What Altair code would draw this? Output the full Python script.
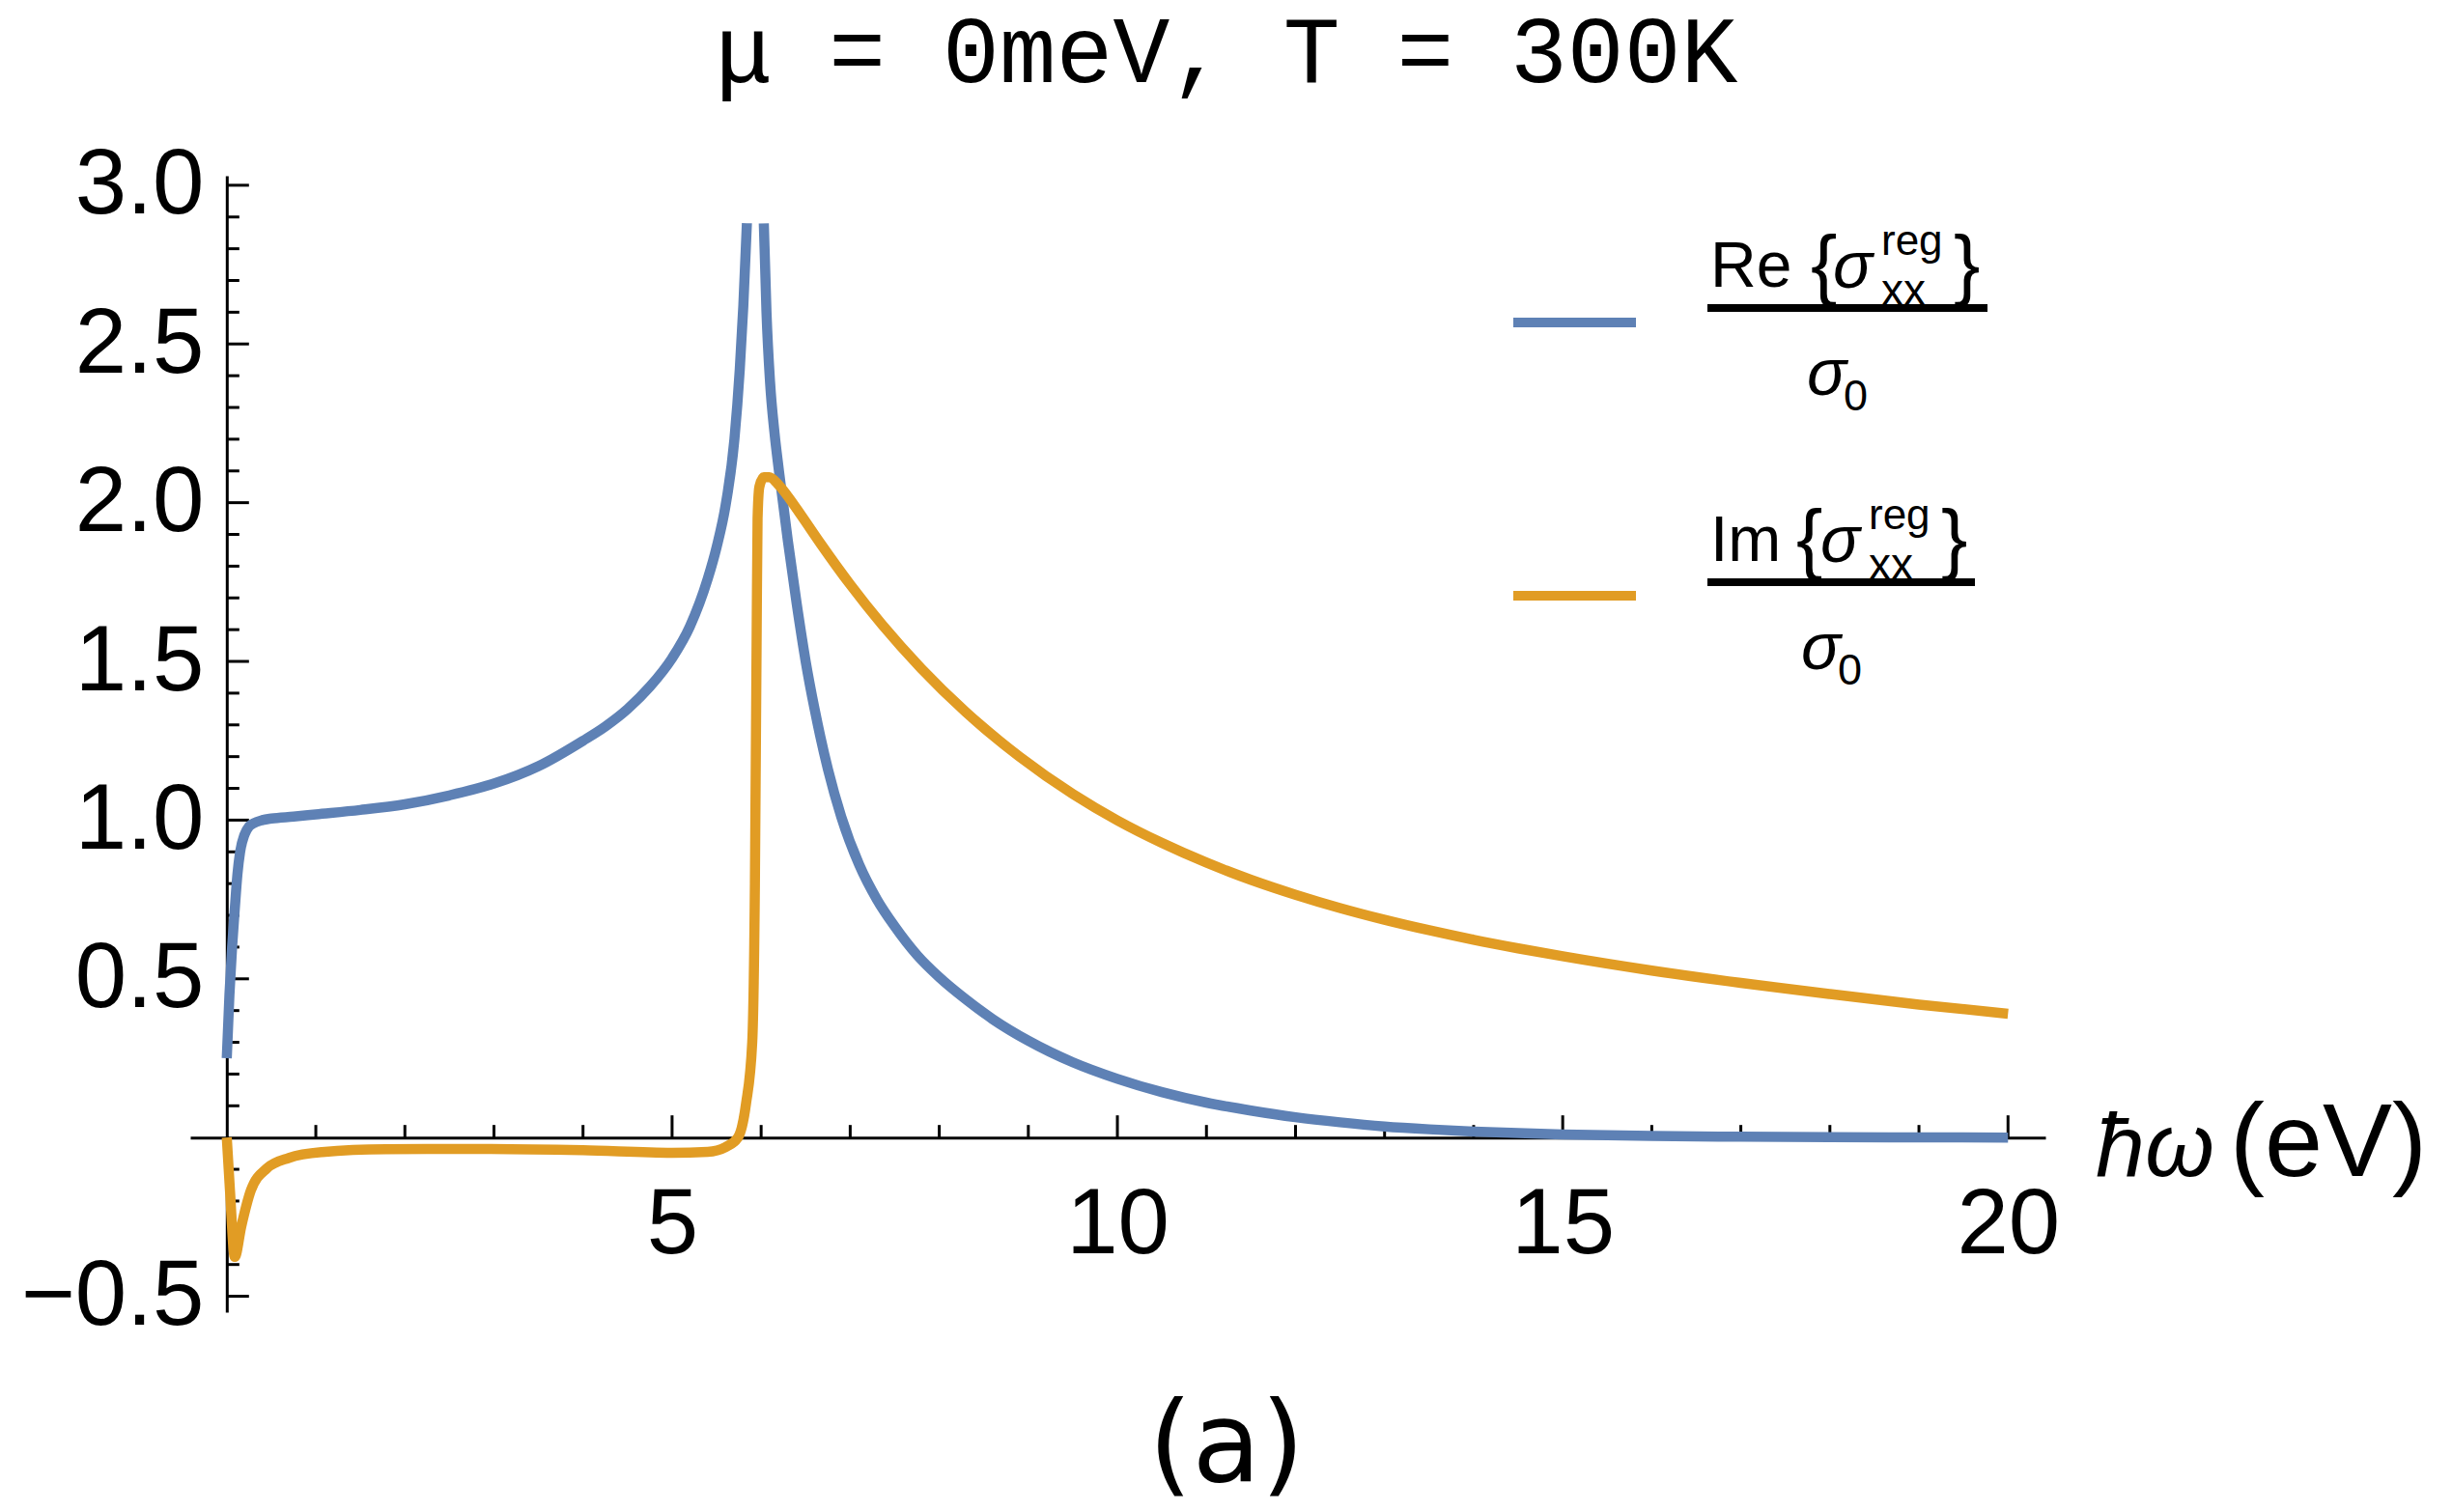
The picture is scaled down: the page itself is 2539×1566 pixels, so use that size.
import altair as alt
import pandas as pd

# ---------------- data ----------------
# Re{sigma_xx^reg}/sigma_0 : left branch (below the singularity)
re_left_x = [0.0, 0.03, 0.06, 0.09, 0.12, 0.15, 0.2, 0.25, 0.3, 0.4, 0.5, 0.75, 1.0, 1.5,
             2.0, 2.5, 3.0, 3.5, 4.0, 4.25, 4.5, 4.75, 5.0, 5.2, 5.4, 5.5, 5.6, 5.7, 5.76,
             5.8, 5.84]
re_left_y = [0.25, 0.45, 0.60, 0.72, 0.83, 0.90, 0.955, 0.98, 0.99, 1.0, 1.005, 1.011,
             1.018, 1.032, 1.05, 1.078, 1.115, 1.17, 1.25, 1.295, 1.35, 1.42, 1.51, 1.61,
             1.76, 1.86, 1.99, 2.20, 2.42, 2.62, 2.88]
# right branch (above the singularity)
re_right_x = [6.03, 6.06, 6.1, 6.15, 6.2, 6.3, 6.4, 6.5, 6.6, 6.75, 6.9, 7.1, 7.3, 7.5,
              7.75, 8.0, 8.3, 8.6, 9.0, 9.5, 10.0, 10.5, 11.0, 11.5, 12.0, 12.5, 13.0,
              13.5, 14.0, 14.5, 15.0, 16.0, 17.0, 18.0, 19.0, 20.0]
re_right_y = [2.88, 2.60, 2.38, 2.22, 2.10, 1.88, 1.68, 1.50, 1.35, 1.16, 1.01, 0.86,
              0.75, 0.665, 0.575, 0.505, 0.435, 0.373, 0.305, 0.237, 0.185, 0.143, 0.110,
              0.085, 0.064, 0.048, 0.035, 0.026, 0.019, 0.014, 0.010, 0.005, 0.0025,
              0.001, 0.0005, 0.0]
# Im{sigma_xx^reg}/sigma_0
im_x = [0.0, 0.036, 0.09, 0.163, 0.27, 0.45, 0.70, 1.07, 1.79, 2.87, 4.0, 5.0, 5.4, 5.6,
        5.74, 5.83, 5.90, 5.93, 5.95, 5.96, 5.98, 6.03, 6.09, 6.2, 6.3, 6.45, 6.67, 7.0,
        7.36, 7.8, 8.3, 8.9, 9.5, 10.0, 10.5, 11.0, 11.5, 12.0, 12.5, 13.0, 13.5, 14.0,
        14.5, 15.0, 16.0, 17.0, 18.0, 19.0, 20.0]
im_y = [0.0, -0.167, -0.376, -0.28, -0.167, -0.097, -0.064, -0.046, -0.037, -0.036, -0.04,
        -0.048, -0.045, -0.03, 0.0, 0.106, 0.3, 0.8, 1.6, 1.95, 2.05, 2.08, 2.08, 2.055,
        2.02, 1.96, 1.87, 1.742, 1.615, 1.477, 1.34, 1.20, 1.082, 0.999, 0.928, 0.866,
        0.812, 0.765, 0.723, 0.686, 0.653, 0.623, 0.596, 0.571, 0.526, 0.487, 0.452,
        0.419, 0.390]

x_major = [5, 10, 15, 20]
x_minor = [1, 2, 3, 4, 6, 7, 8, 9, 11, 12, 13, 14, 16, 17, 18, 19]
y_major = [-0.5, 0.5, 1.0, 1.5, 2.0, 2.5, 3.0]
y_minor = [-0.4, -0.3, -0.2, -0.1, 0.1, 0.2, 0.3, 0.4, 0.6, 0.7, 0.8, 0.9,
           1.1, 1.2, 1.3, 1.4, 1.6, 1.7, 1.8, 1.9, 2.1, 2.2, 2.3, 2.4,
           2.6, 2.7, 2.8, 2.9]

series_names = ["re", "im"]
series_colors = ["#5E81B5", "#E19C24"]

title_text = "μ = 0meV, T = 300K"

# ---------------- layout ----------------
XMIN, XMAX = -0.41, 20.42
YMIN, YMAX = -0.55, 3.03
W, H = 1921, 1177
PAD = {"left": 197, "top": 182, "right": 421, "bottom": 207}

rows = []
for x, y in zip(re_left_x, re_left_y):
    rows.append({"x": x, "y": y, "series": "re", "seg": "re_a"})
for x, y in zip(re_right_x, re_right_y):
    rows.append({"x": x, "y": y, "series": "re", "seg": "re_b"})
for x, y in zip(im_x, im_y):
    rows.append({"x": x, "y": y, "series": "im", "seg": "im"})
df = pd.DataFrame(rows)

xs = alt.Scale(domain=[XMIN, XMAX], nice=False, zero=False)
ys = alt.Scale(domain=[YMIN, YMAX], nice=False, zero=False)

LABEL_FONT = "Liberation Sans"
xaxis = alt.Axis(values=x_major, format="d", title=None, grid=False, ticks=False, tickSize=0,
                 domainColor="black", domainWidth=3, labelFont=LABEL_FONT, labelFontSize=96,
                 labelColor="black", labelPadding=43, labelFlush=False, labelOverlap=False,
                 labelLimit=0, offset=-(0 - YMIN) / (YMAX - YMIN) * H)
yaxis = alt.Axis(values=y_major, format=".1f", title=None, grid=False, ticks=False, tickSize=0,
                 domainColor="black", domainWidth=3, labelFont=LABEL_FONT, labelFontSize=96,
                 labelColor="black", labelPadding=24, labelFlush=False, labelOverlap=False,
                 labelLimit=0, offset=-(0 - XMIN) / (XMAX - XMIN) * W)

lines = alt.Chart(df).mark_line(strokeWidth=10.5, interpolate="monotone", strokeCap="butt",
                                strokeJoin="round").encode(
    x=alt.X("x:Q", scale=xs, axis=xaxis),
    y=alt.Y("y:Q", scale=ys, axis=yaxis),
    color=alt.Color("series:N", scale=alt.Scale(domain=series_names, range=series_colors), legend=None),
    detail="seg:N",
)


def xticks(vals, length):
    d = pd.DataFrame({"pos": vals, "zero": [0] * len(vals)})
    return alt.Chart(d).mark_rule(strokeWidth=3, color="black", y2Offset=-length).encode(
        x=alt.X("pos:Q", scale=xs, axis=xaxis),
        y=alt.Y("zero:Q", scale=ys, axis=yaxis),
        y2="zero:Q",
    )


def yticks(vals, length):
    d = pd.DataFrame({"pos": vals, "zero": [0] * len(vals)})
    return alt.Chart(d).mark_rule(strokeWidth=3, color="black", x2Offset=length).encode(
        y=alt.Y("pos:Q", scale=ys, axis=yaxis),
        x=alt.X("zero:Q", scale=xs, axis=xaxis),
        x2="zero:Q",
    )


one = pd.DataFrame({"k": [0]})


def txt(s, px, py, size, italic=False, font=LABEL_FONT, align="left"):
    return alt.Chart(one).mark_text(
        fontSize=size, font=font, fontStyle="italic" if italic else "normal",
        align=align, baseline="alphabetic", color="black"
    ).encode(x=alt.value(px), y=alt.value(py), text=alt.value(s))


def hrule(x1, x2, y, width, color):
    return alt.Chart(one).mark_rule(strokeWidth=width, color=color, strokeCap="butt").encode(
        x=alt.value(x1), x2=alt.value(x2), y=alt.value(y))


legend_layers = [
    hrule(1370, 1497, 152, 10, series_colors[0]),
    hrule(1370, 1497, 435, 10, series_colors[1]),
    # fraction 1
    txt("Re", 1574, 115, 66),
    txt("{", 1678, 119, 82),
    txt("σ", 1701, 116, 68, italic=True),
    txt("reg", 1751, 82, 44),
    txt("xx", 1751, 134, 46),
    txt("}", 1826, 119, 82),
    hrule(1571, 1861, 137, 8, "black"),
    txt("σ", 1674, 227, 68, italic=True),
    txt("0", 1712, 243, 45),
    # fraction 2
    txt("Im", 1574, 399, 66),
    txt("{", 1663, 403, 82),
    txt("σ", 1688, 400, 68, italic=True),
    txt("reg", 1738, 366, 44),
    txt("xx", 1738, 418, 46),
    txt("}", 1813, 403, 82),
    hrule(1571, 1848, 421, 8, "black"),
    txt("σ", 1668, 511, 68, italic=True),
    txt("0", 1706, 527, 45),
]

extra_text = [
    txt(title_text, 1073, -97, 98, font="Liberation Mono", align="center"),
    txt("ħω", 1973, 1036, 92, italic=True),
    txt("(eV)", 2112, 1036, 108),
    txt("(a)", 1073, 1352, 116, font="DejaVu Sans", align="center"),
]

chart = alt.layer(
    xticks(x_major, 23), xticks(x_minor, 13),
    yticks(y_major, 23), yticks(y_minor, 13),
    lines,
    *legend_layers,
    *extra_text,
).properties(
    width=W, height=H,
    autosize=alt.AutoSizeParams(type="none"),
    padding=PAD,
    background="white",
).configure_view(strokeWidth=0, stroke=None)

chart.save("out.html", embed_options={"renderer": "svg", "actions": False})
